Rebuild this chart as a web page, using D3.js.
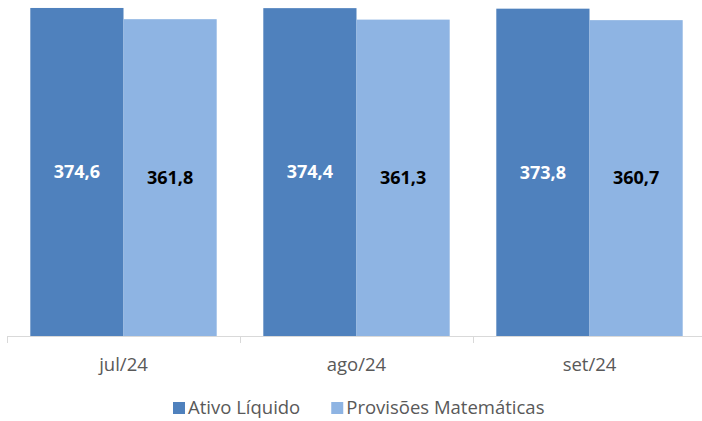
<!DOCTYPE html>
<meta charset="utf-8">
<style>
    body { margin: 0; background: #fff; }
    .bar-label { font-family: 'Open Sans', sans-serif;
                 font-size: 18px;
                 font-weight: bold; }
    .cat-label { font-family: 'Open Sans', sans-serif;
                 font-size: 18.5px;
                 fill: #595959; }
    .legend-text { font-family: 'Open Sans', sans-serif;
                   font-size: 18.5px;
                   fill: #595959; }
    .axis-line { stroke: #d9d9d9; stroke-width: 1px; }
</style>
<body>
<div id="chart"></div>
<script src="https://d3js.org/d3.v7.min.js"></script>
<script>
    var width = 702,
        height = 421;

    var months = ["jul/24", "ago/24", "set/24"];
    var series = ["Ativo Líquido", "Provisões Matemáticas"];
    var ativo = [374.6, 374.4, 373.8];
    var provisoes = [361.8, 361.3, 360.7];

    var colors = ["#4f81bd", "#8eb4e3"];
    var labelColors = ["#ffffff", "#000000"];

    var data = months.map((m, i) => ({month: m, values: [ativo[i], provisoes[i]]}));

    var fmt = d3.formatLocale({decimal: ",", thousands: ".", grouping: [3], currency: ["R$", ""]}).format(".1f");

    var svg = d3.select("#chart").append("svg")
        .attr("width", width)
        .attr("height", height);

    var baseline = 336;

    var x0 = d3.scaleBand()
        .domain(months)
        .range([7, 706])
        .paddingInner(0.2)
        .paddingOuter(0.1);

    var x1 = d3.scaleBand()
        .domain(series)
        .range([0, x0.bandwidth()]);

    var y = d3.scaleLinear()
        .domain([0, 383.7])
        .range([baseline, 0]);

    var groups = svg.selectAll(".group")
        .data(data)
        .enter().append("g")
        .attr("class", "group")
        .attr("transform", d => "translate(" + x0(d.month) + ",0)");

    groups.selectAll("rect")
        .data(d => d.values.map((v, j) => ({s: series[j], v: v, j: j})))
        .enter().append("rect")
        .attr("x", d => x1(d.s))
        .attr("y", d => y(d.v))
        .attr("width", x1.bandwidth())
        .attr("height", d => baseline - y(d.v))
        .attr("fill", d => colors[d.j]);

    groups.selectAll(".bar-label")
        .data(d => d.values.map((v, j) => ({s: series[j], v: v, j: j})))
        .enter().append("text")
        .attr("class", "bar-label")
        .attr("x", d => x1(d.s) + x1.bandwidth() / 2)
        .attr("y", d => (y(d.v) + baseline) / 2)
        .attr("dy", "0.35em")
        .attr("text-anchor", "middle")
        .attr("fill", d => labelColors[d.j])
        .text(d => fmt(d.v));

    // category axis
    var r = x0.range();
    svg.append("line")
        .attr("class", "axis-line")
        .attr("x1", r[0]).attr("x2", r[1])
        .attr("y1", baseline + 0.5).attr("y2", baseline + 0.5);

    svg.selectAll(".tick-mark")
        .data(d3.range(months.length + 1))
        .enter().append("line")
        .attr("class", "axis-line")
        .attr("x1", i => Math.round(r[0] + i * x0.step()) + 0.5)
        .attr("x2", i => Math.round(r[0] + i * x0.step()) + 0.5)
        .attr("y1", baseline)
        .attr("y2", baseline + 7);

    svg.selectAll(".cat-label")
        .data(months)
        .enter().append("text")
        .attr("class", "cat-label")
        .attr("x", d => x0(d) + x0.bandwidth() / 2)
        .attr("y", 371)
        .attr("text-anchor", "middle")
        .text(d => d);

    // legend
    var legend = svg.append("g").attr("transform", "translate(173,0)");
    var lx = 0;
    series.forEach((s, i) => {
        var g = legend.append("g").attr("transform", "translate(" + lx + ",0)");
        g.append("rect")
            .attr("x", 0).attr("y", 402)
            .attr("width", 12).attr("height", 12)
            .attr("fill", colors[i]);
        var t = g.append("text")
            .attr("class", "legend-text")
            .attr("x", 15)
            .attr("y", 414)
            .text(s);
        lx += 15 + t.node().getComputedTextLength() + 31;
    });
</script>
</body>
